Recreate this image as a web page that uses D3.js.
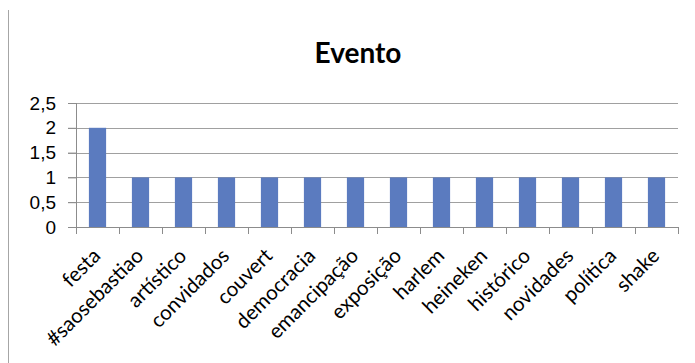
<!DOCTYPE html>
<html>
<head>
<meta charset="utf-8">
<script src="https://cdn.jsdelivr.net/npm/d3@7"></script>
<style>
  body { margin: 0; background: #fff; }
  svg { display: block; font-family: Lato, "Open Sans", sans-serif; }
</style>
</head>
<body>
<div id="chart"></div>
<script>
var categories = ["festa", "#saosebastiao", "artístico", "convidados", "couvert", "democracia",
    "emancipação", "exposição", "harlem", "heineken", "histórico", "novidades", "política", "shake"];
var values = [2, 1, 1, 1, 1, 1, 1, 1, 1, 1, 1, 1, 1, 1];
var yTicks = [0, 0.5, 1, 1.5, 2, 2.5];
var title = "Evento";

var width = 695, height = 363;
var margin = {top: 103, right: 17, bottom: 136, left: 76};

var svg = d3.select("#chart").append("svg")
    .attr("width", width)
    .attr("height", height);

// left edge of the chart frame
svg.append("line")
    .attr("x1", 8.5).attr("x2", 8.5)
    .attr("y1", 10).attr("y2", height)
    .attr("stroke", "#a6a6a6");

var x = d3.scaleBand()
    .domain(categories)
    .range([margin.left, width - margin.right])
    .paddingInner(0.6)
    .paddingOuter(0.3);

var y = d3.scaleLinear()
    .domain([0, 2.5])
    .range([height - margin.bottom, margin.top]);

var fmt = d3.formatLocale({decimal: ",", thousands: ".", grouping: [3], currency: ["R$", ""]}).format("~g");

// gridlines
svg.append("g")
    .selectAll("line")
    .data(yTicks.filter(function (d) { return d > 0; }))
    .enter().append("line")
    .attr("x1", margin.left - 8)
    .attr("x2", width - margin.right)
    .attr("y1", function (d) { return Math.round(y(d)) + 0.5; })
    .attr("y2", function (d) { return Math.round(y(d)) + 0.5; })
    .attr("stroke", "#a0a0a0");

// bars
svg.append("g")
    .selectAll("rect")
    .data(values)
    .enter().append("rect")
    .attr("x", function (d, i) { return x(categories[i]); })
    .attr("width", x.bandwidth())
    .attr("y", function (d) { return y(d); })
    .attr("height", function (d) { return y(0) - y(d); })
    .attr("fill", "#5b7bbf");

// y axis
var yAxis = svg.append("g")
    .attr("transform", "translate(" + margin.left + ",0)")
    .call(d3.axisLeft(y).tickValues(yTicks).tickFormat(fmt).tickSize(8).tickPadding(12));
yAxis.select(".domain").attr("stroke", "#8c8c8c").attr("d", "M0.5," + y(2.5) + "V" + y(0));
yAxis.selectAll(".tick line").attr("stroke", "#8c8c8c");
yAxis.selectAll("text").attr("fill", "#000").style("font-size", "19px");

// x axis with ticks at band boundaries
var step = x.step();
var bounds = d3.range(categories.length + 1).map(function (i) { return margin.left + i * step; });
var xg = svg.append("g");
xg.append("line")
    .attr("x1", margin.left - 8).attr("x2", width - margin.right)
    .attr("y1", Math.round(y(0)) + 0.5).attr("y2", Math.round(y(0)) + 0.5)
    .attr("stroke", "#8c8c8c");
xg.selectAll("line.tk")
    .data(bounds)
    .enter().append("line")
    .attr("class", "tk")
    .attr("x1", function (d) { return Math.round(d) + 0.5; })
    .attr("x2", function (d) { return Math.round(d) + 0.5; })
    .attr("y1", y(0))
    .attr("y2", y(0) + 7)
    .attr("stroke", "#8c8c8c");

xg.selectAll("text")
    .data(categories)
    .enter().append("text")
    .attr("transform", function (d) {
        return "translate(" + (x(d) + x.bandwidth() / 2 - 6) + "," + (y(0) + 20) + ") rotate(-45)";
    })
    .attr("text-anchor", "end")
    .attr("dy", "0.7em")
    .style("font-size", "20.5px")
    .text(function (d) { return d; });

// title
svg.append("text")
    .attr("x", 358)
    .attr("y", 63)
    .attr("text-anchor", "middle")
    .style("font-size", "28px")
    .style("font-weight", "bold")
    .text(title);
</script>
</body>
</html>
